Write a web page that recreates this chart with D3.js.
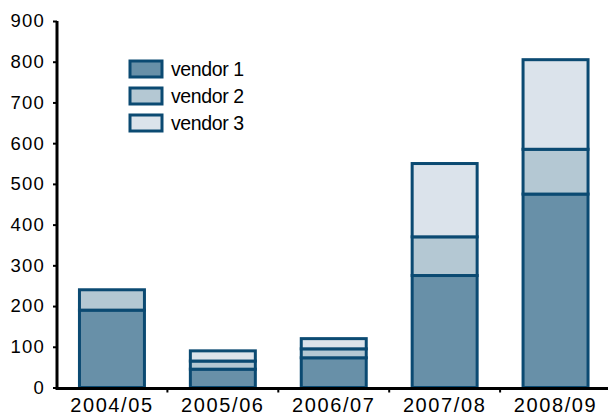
<!DOCTYPE html>
<html>
<head>
<meta charset="utf-8">
<script src="https://cdn.jsdelivr.net/npm/d3@7"></script>
<style>
  body { margin: 0; background: #fff; }
  svg text { font-family: "Liberation Sans", Arial, sans-serif; fill: #000; }
</style>
</head>
<body>
<div id="chart"></div>
<script>
var years = ["2004/05", "2005/06", "2006/07", "2007/08", "2008/09"];
var vendor1 = [190, 45, 73, 275, 475];
var vendor2 = [50, 20, 22, 95, 110];
var vendor3 = [0, 25, 25, 180, 220];
var seriesNames = ["vendor 1", "vendor 2", "vendor 3"];
var yTicks = [0, 100, 200, 300, 400, 500, 600, 700, 800, 900];

var colors = ["#6890a8", "#b4c8d3", "#dbe3eb"];
var strokeColor = "#0b4a72";

var width = 608, height = 418;

var svg = d3.select("#chart").append("svg")
  .attr("width", width)
  .attr("height", height);

var rows = years.map(function(y, i) {
  return { year: y, v1: vendor1[i], v2: vendor2[i], v3: vendor3[i] };
});
var stack = d3.stack().keys(["v1", "v2", "v3"]);
var layers = stack(rows);

var x = d3.scaleBand().domain(years).range([56.5, 611]).paddingInner(0.414).paddingOuter(0.207);
var xb = d3.scaleBand().domain(years).range([56.5, 611]).padding(0);
var y = d3.scaleLinear().domain([0, 900]).range([387.5, 21]);

// bars
svg.selectAll(".layer")
  .data(layers)
  .enter().append("g")
  .attr("class", "layer")
  .attr("fill", function(d, i) { return colors[i]; })
  .selectAll("rect")
  .data(function(d) { return d; })
  .enter().append("rect")
  .attr("x", function(d) { return x(d.data.year); })
  .attr("width", x.bandwidth())
  .attr("y", function(d) { return y(d[1]); })
  .attr("height", function(d) { return y(d[0]) - y(d[1]); })
  .attr("stroke", strokeColor)
  .attr("stroke-width", 3);

// y axis
var yAxis = d3.axisLeft(y).tickValues(yTicks).tickSize(4).tickPadding(8);
var gy = svg.append("g")
  .attr("transform", "translate(57,0)")
  .call(yAxis);
gy.select(".domain").attr("stroke", "#000").attr("stroke-width", 3)
  .attr("d", "M0," + y(900) + "V" + y(0));
gy.selectAll(".tick line").attr("stroke", "#000").attr("stroke-width", 2);
gy.selectAll(".tick text")
  .style("font-size", "18.5px")
  .style("letter-spacing", "1.2px")
  .attr("fill", "#000");

// x axis
var gx = svg.append("g").attr("transform", "translate(0," + 388.5 + ")");
gx.append("line")
  .attr("x1", 55.5).attr("x2", width)
  .attr("stroke", "#000").attr("stroke-width", 3);
gx.selectAll(".sep")
  .data(years.slice(1))
  .enter().append("line")
  .attr("class", "sep")
  .attr("x1", function(d) { return xb(d); })
  .attr("x2", function(d) { return xb(d); })
  .attr("y1", 0).attr("y2", 4)
  .attr("stroke", "#000").attr("stroke-width", 2);
gx.selectAll(".lbl")
  .data(years)
  .enter().append("text")
  .attr("class", "lbl")
  .attr("x", function(d) { return x(d) + x.bandwidth() / 2; })
  .attr("y", 23.5)
  .attr("text-anchor", "middle")
  .style("font-size", "20px")
  .style("letter-spacing", "1.6px")
  .text(function(d) { return d; });

// legend
var legend = svg.append("g").attr("transform", "translate(130,61)");
var li = legend.selectAll(".li")
  .data(seriesNames)
  .enter().append("g")
  .attr("class", "li")
  .attr("transform", function(d, i) { return "translate(0," + (i * 27) + ")"; });
li.append("rect")
  .attr("width", 32).attr("height", 16)
  .attr("fill", function(d, i) { return colors[i]; })
  .attr("stroke", strokeColor)
  .attr("stroke-width", 3);
li.append("text")
  .attr("x", 41)
  .attr("y", 15)
  .style("font-size", "19.5px")
  .style("letter-spacing", "-0.4px")
  .text(function(d) { return d; });
</script>
</body>
</html>
